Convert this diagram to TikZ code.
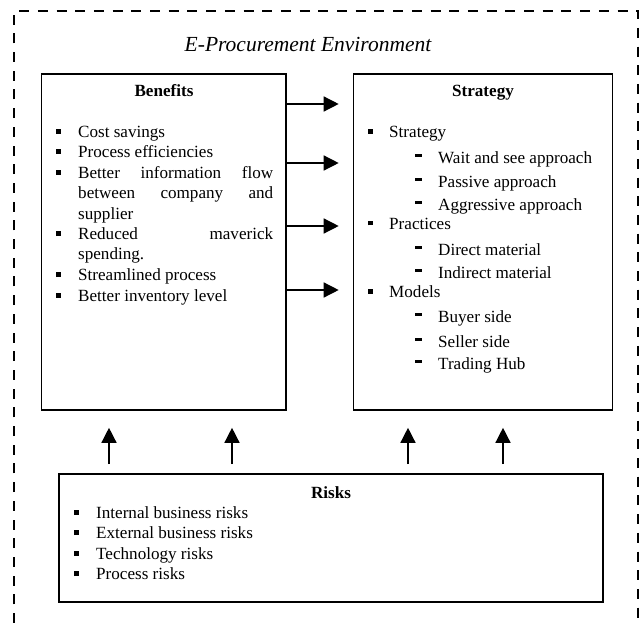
\documentclass[tikz,border=0pt]{standalone}
\usepackage{fontspec}
\setmainfont{Liberation Serif}
\usetikzlibrary{arrows.meta}

\newcommand{\bul}{\makebox[22pt][l]{\rule[3.5pt]{5pt}{5pt}}}
\newcommand{\sbul}{\makebox[21pt][l]{\rule[3.5pt]{5pt}{5pt}}}
\newcommand{\subdash}{\hspace*{47pt}\makebox[23pt][l]{\rule[6.5pt]{7pt}{3pt}}}

\tikzset{
  box/.style={draw, line width=1.6pt, inner sep=0pt},
  head/.style={font=\fontsize{17.1}{20.5}\selectfont\bfseries, anchor=base},
  list/.style={anchor=base west, inner sep=0pt, align=flush left, font=\fontsize{17.1}{20.5}\selectfont},
  arr/.style={-{Triangle[length=15pt,width=15pt]}, line width=1.4pt},
}

\begin{document}
\begin{tikzpicture}[x=1pt, y=-1pt]
    \useasboundingbox (0,0) rectangle (642,623);

    % Environment frame
    \draw[line width=2.5pt, dash pattern=on 10pt off 8.7pt] (14,623) -- (14,11) -- (638,11) -- (638,623);
    \node[font=\fontsize{21.5}{25}\selectfont\itshape, anchor=base] (env) at (308,52) {E-Procurement Environment};

    % Boxes
    \node[box, minimum width=244.5pt, minimum height=336pt] (benefits) at (163.75,242) {};
    \node[box, minimum width=259pt, minimum height=336pt] (strategy) at (483,242) {};
    \node[box, minimum width=544pt, minimum height=128pt] (risks) at (331,538) {};

    % Benefits
    \node[head] (bentitle) at (164,97) {Benefits};
    \node[list, text width=217pt] (benlist) at (56,137) {%
      \bul Cost savings\\
      \bul Process efficiencies\\
      \bul Better\hfill information\hfill flow\\
      \hspace*{22pt}between\hfill company\hfill and\\
      \hspace*{22pt}supplier\\
      \bul Reduced\hfill maverick\\
      \hspace*{22pt}spending.\\
      \bul Streamlined process\\
      \bul Better inventory level};

    % Strategy
    \node[head] (strtitle) at (483,97) {Strategy};
    \node[list, text width=240pt] (strlist) at (368,137) {%
      \sbul Strategy\\[5.5pt]
      \subdash Wait and see approach\\[3.5pt]
      \subdash Passive approach\\[2.5pt]
      \subdash Aggressive approach\\[-1.5pt]
      \sbul Practices\\[5.5pt]
      \subdash Direct material\\[2.5pt]
      \subdash Indirect material\\[-1.5pt]
      \sbul Models\\[4.5pt]
      \subdash Buyer side\\[4.5pt]
      \subdash Seller side\\[1.5pt]
      \subdash Trading Hub};

    % Risks
    \node[head] (risktitle) at (331,498) {Risks};
    \node[list, text width=500pt] (risklist) at (74,518) {%
      \bul Internal business risks\\
      \bul External business risks\\
      \bul Technology risks\\
      \bul Process risks};

    % Arrows
    \foreach \y in {104,163,226,290}
      \draw[arr, shorten >=14pt] (benefits.east |- 0,\y) -- (strategy.west |- 0,\y);
    \foreach \x in {109,232}
      \draw[arr, shorten <=9pt, shorten >=17pt] (risks.north -| \x,0) -- (benefits.south -| \x,0);
    \foreach \x in {408,503}
      \draw[arr, shorten <=9pt, shorten >=17pt] (risks.north -| \x,0) -- (strategy.south -| \x,0);

\end{tikzpicture}
\end{document}
